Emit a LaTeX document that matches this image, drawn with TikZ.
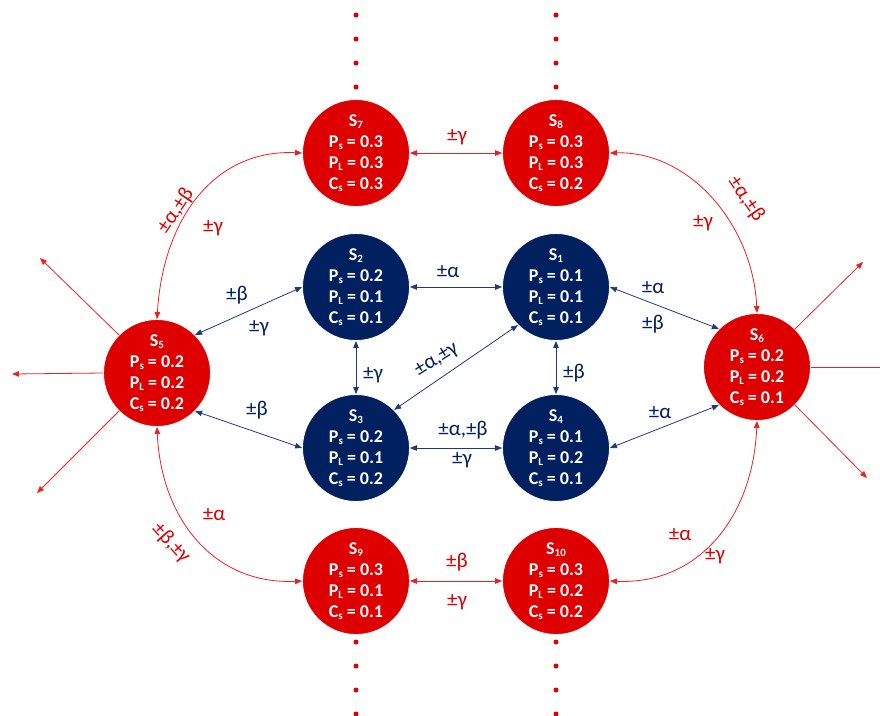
\documentclass[tikz,border=0pt]{standalone}
\usepackage{fontspec}
\setmainfont{Carlito}
\usetikzlibrary{arrows.meta}
\definecolor{stred}{RGB}{222,0,0}
\definecolor{stblue}{RGB}{0,32,96}
\definecolor{lnred}{RGB}{240,30,30}
\definecolor{lnblue}{RGB}{30,58,125}
\newcommand\mysub[1]{\raisebox{-0.3ex}{\fontsize{11}{11}\selectfont #1}}
\begin{document}
\begin{tikzpicture}[x=1pt,y=1pt,
  >={Triangle[length=7pt,width=5.5pt]},
  state/.style={circle, minimum size=107pt, inner sep=0pt, draw=white, line width=0.8pt,
    text=white, font=\fontsize{18}{21}\selectfont\bfseries, align=center},
  redstate/.style={state, fill=stred},
  bluestate/.style={state, fill=stblue},
  rline/.style={draw=lnred, line width=0.8pt},
  bline/.style={draw=lnblue, line width=0.8pt},
  rlab/.style={text=stred, font=\fontsize{21}{21}\selectfont, inner sep=0pt},
  blab/.style={text=stblue, font=\fontsize{21}{21}\selectfont, inner sep=0pt},
  dotmark/.style={fill=stred}
]
\useasboundingbox (0,0) rectangle (880,-715);

% states
\node[bluestate] (S1) at (556,-287) {S\mysub{1}\\P\mysub{s} = 0.1\\P\mysub{L} = 0.1\\C\mysub{s} = 0.1};
\node[bluestate] (S2) at (356,-287) {S\mysub{2}\\P\mysub{s} = 0.2\\P\mysub{L} = 0.1\\C\mysub{s} = 0.1};
\node[bluestate] (S3) at (356,-448) {S\mysub{3}\\P\mysub{s} = 0.2\\P\mysub{L} = 0.1\\C\mysub{s} = 0.2};
\node[bluestate] (S4) at (556,-448) {S\mysub{4}\\P\mysub{s} = 0.1\\P\mysub{L} = 0.2\\C\mysub{s} = 0.1};
\node[redstate] (S5) at (157,-373) {S\mysub{5}\\P\mysub{s} = 0.2\\P\mysub{L} = 0.2\\C\mysub{s} = 0.2};
\node[redstate] (S6) at (757,-367) {S\mysub{6}\\P\mysub{s} = 0.2\\P\mysub{L} = 0.2\\C\mysub{s} = 0.1};
\node[redstate] (S7) at (356,-153) {S\mysub{7}\\P\mysub{s} = 0.3\\P\mysub{L} = 0.3\\C\mysub{s} = 0.3};
\node[redstate] (S8) at (556,-153) {S\mysub{8}\\P\mysub{s} = 0.3\\P\mysub{L} = 0.3\\C\mysub{s} = 0.2};
\node[redstate] (S9) at (356,-581) {S\mysub{9}\\P\mysub{s} = 0.3\\P\mysub{L} = 0.1\\C\mysub{s} = 0.1};
\node[redstate] (S10) at (556,-581) {S\mysub{10}\\P\mysub{s} = 0.3\\P\mysub{L} = 0.2\\C\mysub{s} = 0.2};

% blue connectors
\draw[bline,<->] (S5.north east) -- (S2.west);
\draw[bline,<->] (S5.south east) -- (S3.west);
\draw[bline,<->] (S2.east) -- (S1.west);
\draw[bline,<->] (S2.south) -- (S3.north);
\draw[bline,<->] (S3.north east) -- (S1.south west);
\draw[bline,<->] (S3.east) -- (S4.west);
\draw[bline,<->] (S1.south) -- (S4.north);
\draw[bline,<->] (S1.east) -- (S6.north west);
\draw[bline,<->] (S4.east) -- (S6.south west);

% red connectors
\draw[rline,<->] (S7.east) -- (S8.west);
\draw[rline,<->] (S9.east) -- (S10.west);
\draw[rline,<->] (S5.north) .. controls +(6,100) and +(-88,4) .. (S7.west);
\draw[rline,<->] (S8.east) .. controls +(80,2) and +(-4,88) .. (S6.north);
\draw[rline,<->] (S9.west) .. controls +(-88,-4) and +(4,-92) .. (S5.south);
\draw[rline,<->] (S10.east) .. controls +(88,-4) and +(-4,-97) .. (S6.south);

% outgoing
\coordinate (o5a) at (40,-258);
\coordinate (o5b) at (12,-374);
\coordinate (o5c) at (37,-493);
\coordinate (o6a) at (863,-262);
\coordinate (o6b) at (880,-367);
\coordinate (o6c) at (867,-478);
\draw[rline,->] (S5.north west) -- (o5a);
\draw[rline,->] (S5.west) -- (o5b);
\draw[rline,->] (S5.south west) -- (o5c);
\draw[rline,->] (S6.north east) -- (o6a);
\draw[rline] (S6.east) -- (o6b);
\draw[rline,->] (S6.south east) -- (o6c);

% dots
\foreach \yy in {15,39,63,87,642,666,690,714} {
  \fill[dotmark] (356,-\yy) circle (2.5);
  \fill[dotmark] (556,-\yy) circle (2.5);
}

% labels
\node[rlab, rotate=56] (l1) at (176,-211) {±α,±β};
\node[rlab] (l2) at (213,-228) {±γ};
\node[rlab] (l3) at (457,-137) {±γ};
\node[rlab, rotate=-55] (l4) at (746,-199) {±α,±β};
\node[rlab] (l5) at (703,-223) {±γ};
\node[blab] (l6) at (237,-295) {±β};
\node[blab] (l7) at (259,-328) {±γ};
\node[blab] (l8) at (448,-272) {±α};
\node[blab] (l9) at (653,-288) {±α};
\node[blab] (l10) at (653,-324) {±β};
\node[blab] (l11) at (373,-375) {±γ};
\node[blab, rotate=32] (l12) at (437,-360) {±α,±γ};
\node[blab] (l13) at (574,-373) {±β};
\node[blab] (l14) at (257,-410) {±β};
\node[blab] (l15) at (463,-430) {±α,±β};
\node[blab] (l16) at (462,-460) {±γ};
\node[blab] (l17) at (660,-413) {±α};
\node[rlab] (l18) at (214,-515) {±α};
\node[rlab, rotate=-48] (l19) at (171,-543) {±β,±γ};
\node[rlab] (l20) at (457,-562) {±β};
\node[rlab] (l21) at (457,-602) {±γ};
\node[rlab] (l22) at (680,-535) {±α};
\node[rlab] (l23) at (715,-556) {±γ};
\end{tikzpicture}
\end{document}
